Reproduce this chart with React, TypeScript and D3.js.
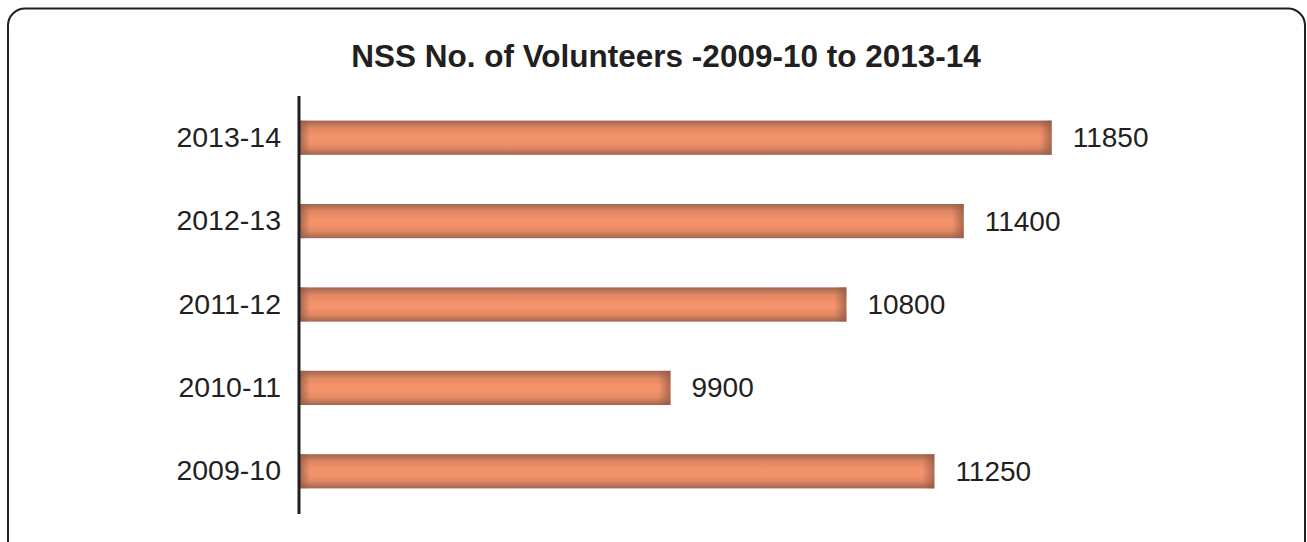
import React from "react";
import * as d3 from "d3";

const categories = ["2013-14", "2012-13", "2011-12", "2010-11", "2009-10"];
const volunteers = [11850, 11400, 10800, 9900, 11250];
const titleText = "NSS No. of Volunteers -2009-10 to 2013-14";

const W = 1307;
const H = 542;

export default function App() {
  const axisX = 299;
  const x = d3.scaleLinear().domain([8000, 12000]).range([axisX, axisX + 782]);
  const y = d3.scaleBand().domain(categories).range([96, 513]).paddingInner(0.59).paddingOuter(0.295);
  const bw = y.bandwidth();
  const ink = "#231f20";
  const font = "'Liberation Sans', Arial, Helvetica, sans-serif";

  return (
    <div style={{ position: "fixed", left: 0, top: 0, width: W, height: H, background: "#fff" }}>
      <svg width={W} height={H} style={{ display: "block" }}>
        <defs>
          <linearGradient id="vgrad" x1="0" y1="0" x2="0" y2="1">
            <stop offset="0" stopColor="#a0654f" />
            <stop offset="0.22" stopColor="#e08762" />
            <stop offset="0.45" stopColor="#f4936b" />
            <stop offset="0.6" stopColor="#f4936b" />
            <stop offset="0.8" stopColor="#e08762" />
            <stop offset="1" stopColor="#a0654f" />
          </linearGradient>
          <linearGradient id="lgrad" x1="0" y1="0" x2="1" y2="0">
            <stop offset="0" stopColor="#8f5a46" stopOpacity="0.75" />
            <stop offset="1" stopColor="#8f5a46" stopOpacity="0" />
          </linearGradient>
          <linearGradient id="rgrad" x1="0" y1="0" x2="1" y2="0">
            <stop offset="0" stopColor="#8f5a46" stopOpacity="0" />
            <stop offset="1" stopColor="#8f5a46" stopOpacity="0.75" />
          </linearGradient>
        </defs>
        <rect x={8} y={8.5} width={1297} height={560} rx={17} ry={17} fill="#fff" stroke={ink} strokeWidth={2} />
        <text x={666} y={67} textAnchor="middle" fontFamily={font} fontWeight="bold" fontSize={31.5} fill={ink}>
          {titleText}
        </text>
        {categories.map((c, i) => {
          const v = volunteers[i];
          const y0 = y(c) as number;
          const x0 = axisX + 1;
          const x1 = x(v);
          const cy = y0 + bw / 2;
          return (
            <g key={c}>
              <rect x={x0} y={y0} width={x1 - x0} height={bw} fill="url(#vgrad)" />
              <rect x={x0} y={y0} width={10} height={bw} fill="url(#lgrad)" />
              <rect x={x1 - 12} y={y0} width={12} height={bw} fill="url(#rgrad)" />
              <text x={281} y={cy + 9} textAnchor="end" fontFamily={font} fontSize={28.5} fill={ink}>
                {c}
              </text>
              <text x={x1 + 21} y={cy + 9.5} textAnchor="start" fontFamily={font} fontSize={28} fill={ink}>
                {v}
              </text>
            </g>
          );
        })}
        <line x1={axisX} x2={axisX} y1={96} y2={514} stroke={ink} strokeWidth={3} />
      </svg>
    </div>
  );
}
